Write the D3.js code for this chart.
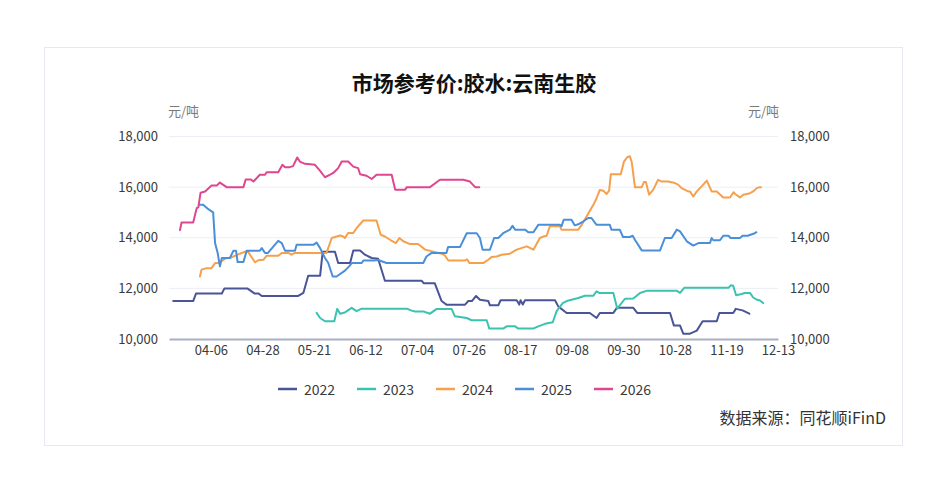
<!DOCTYPE html>
<html><head><meta charset="utf-8">
<script src="https://cdn.jsdelivr.net/npm/d3@7"></script>
<style>body{margin:0;background:#fff;} svg{display:block;font-family:"Noto Sans CJK SC","Noto Sans",sans-serif;}</style>
</head><body><svg id="c" width="949" height="502"></svg>
<script>
const title = "市场参考价:胶水:云南生胶";
const unit = "元/吨";
const source = "数据来源：同花顺iFinD";
const years = ["2022", "2023", "2024", "2025", "2026"];
const colors = ["#4a5599", "#3cc2b0", "#f5a04d", "#4a8fd8", "#e0468e"];
const yTicks = [10000, 12000, 14000, 16000, 18000];
const tickLabels = ["04-06","04-28","05-21","06-12","07-04","07-26","08-17","09-08","09-30","10-28","11-19","12-13"];
const categoryCount = 190, firstTick = 13, tickStep = 16;

// [category index, price]
const s2022 = [[1.3,11500],[7.5,11500],[8.4,11800],[16.4,11800],[17.2,12000],[24.3,12000],[26.5,11800],[27.7,11800],[28.8,11700],[40.1,11700],[41.7,11820],[43.2,12500],[46.9,12500],[47.7,13450],[51.5,13450],[52.5,13000],[56.2,13000],[57.2,13500],[59.3,13500],[60.8,13330],[62.9,13200],[64.9,13170],[67.0,12300],[78.4,12300],[79.1,12200],[82.5,12200],[84.6,11500],[86.2,11350],[91.8,11350],[92.9,11500],[94,11500],[95.3,11700],[96.5,11550],[99.1,11500],[99.6,11330],[102.2,11330],[102.9,11530],[107.9,11530],[108.7,11360],[109.1,11530],[109.8,11360],[110.5,11530],[119.8,11530],[120.8,11290],[123.4,11030],[130.6,11030],[132.7,10830],[133.7,11030],[137.9,11030],[139.0,11230],[144.1,11230],[145.3,11030],[155.5,11030],[156.7,10530],[158.6,10530],[159.6,10210],[161.7,10210],[163.8,10330],[165.6,10700],[170.0,10700],[170.8,11030],[175.1,11030],[175.9,11190],[178.0,11130],[180.1,11000]];
const s2023 = [[45.8,11030],[46.9,10830],[48.4,10700],[51.3,10700],[52.2,11190],[53.1,11000],[54.6,11050],[56.7,11230],[58.2,11100],[59.8,11200],[73.8,11200],[75.3,11120],[76.3,11090],[78.9,11090],[81.0,11000],[83.1,11190],[87.7,11190],[88.7,10900],[92.4,10830],[93.9,10740],[98.6,10740],[99.4,10410],[103.7,10410],[104.8,10500],[107.4,10500],[108.4,10410],[113.0,10410],[114.6,10500],[116.7,10600],[119.1,10660],[120.3,11100],[122.2,11420],[123.4,11500],[127.0,11620],[129.1,11710],[131.7,11710],[132.7,11880],[133.5,11820],[137.9,11820],[139.1,11200],[141.5,11590],[144.1,11600],[146.2,11820],[148.4,11910],[157.5,11910],[158.6,11820],[159.9,12020],[173.6,12020],[174.4,12120],[175.1,12100],[176.0,11730],[177.7,11780],[178.7,11820],[180.3,11820],[181.3,11640],[182.3,11560],[183.4,11520],[184.4,11420]];
const s2024 = [[9.6,12470],[10.1,12740],[11.7,12800],[13.2,12800],[14.3,13000],[15.3,13000],[17.9,13200],[18.9,13200],[22.0,13370],[23.9,13460],[24.5,13450],[26.7,13030],[27.7,13110],[29.3,13130],[30.3,13290],[33.9,13290],[35.0,13400],[37.0,13400],[38.0,13330],[39.1,13400],[48.9,13400],[50.5,13990],[53.1,14090],[54.1,14050],[54.6,13990],[55.6,14190],[57.2,14190],[58.2,14380],[60.3,14680],[64.4,14680],[65.7,14120],[67.0,14050],[68.6,13920],[70.4,13790],[71.5,13990],[72.7,13860],[74.8,13750],[77.3,13750],[79.5,13530],[84.6,13370],[85.6,13300],[86.7,13100],[91.8,13100],[92.5,13150],[93.2,13000],[97.5,13000],[99.1,13130],[100.1,13240],[101.7,13260],[103.2,13330],[105.8,13370],[107.9,13530],[111.0,13660],[112.0,13600],[113.1,13530],[115.1,13990],[116.2,14050],[117.2,14080],[118.2,14450],[121.3,14450],[121.8,14320],[127.0,14320],[128.1,14510],[131.7,15300],[132.7,15560],[133.7,15890],[134.8,15860],[135.8,15730],[136.6,15860],[137.1,16510],[140.2,16510],[141.2,17010],[142.2,17180],[143.0,17220],[143.6,17000],[144.6,16000],[146.7,16000],[147.4,16200],[148.0,16200],[149.0,15700],[150.3,15900],[151.8,16290],[152.9,16220],[154.9,16220],[157.0,16160],[158.0,16100],[159.1,15960],[161.1,15830],[161.7,15830],[162.7,15630],[163.8,15830],[165.3,16030],[166.9,16260],[168.4,15830],[170.0,15830],[172.0,15590],[174.1,15590],[175.2,15800],[175.7,15730],[177.2,15590],[178.2,15700],[179.3,15730],[180.3,15760],[181.3,15830],[182.4,15960],[183.4,16000],[183.7,16000]];
const s2025 = [[9.4,15300],[10.6,15300],[12.2,15130],[13.7,15000],[14.3,13790],[15.1,13400],[15.8,12870],[16.4,13200],[18.9,13200],[20.0,13490],[20.8,13490],[21.3,13040],[23.1,13040],[24.1,13490],[28.2,13490],[28.8,13590],[29.8,13400],[30.7,13400],[33.9,13880],[35.0,13790],[36.0,13490],[39.1,13490],[39.6,13720],[44.8,13720],[45.8,13810],[46.9,13590],[48.4,13200],[49.4,13010],[50.8,12470],[52.0,12470],[54.6,12700],[55.9,12870],[56.7,13000],[59.8,13000],[60.3,13100],[63.4,13100],[64.9,13120],[67.5,13000],[78.9,13000],[79.9,13260],[81.5,13400],[86.1,13400],[86.6,13630],[90.3,13630],[92.4,14180],[95.5,14180],[96.5,13990],[97.3,13530],[99.6,13530],[100.9,13990],[102.2,13990],[103.7,14180],[105.8,14320],[106.6,14470],[107.4,14320],[110.5,14320],[111.5,14220],[113.1,14220],[114.6,14510],[121.3,14510],[121.8,14450],[122.5,14710],[124.9,14710],[125.9,14490],[127.0,14530],[128.5,14640],[130.1,14780],[131.1,14780],[132.7,14510],[136.8,14510],[137.3,14320],[139.9,14320],[140.9,14030],[143.0,14030],[143.9,14080],[144.6,13920],[146.7,13500],[152.4,13500],[153.9,13990],[156.0,13990],[157.6,14320],[158.6,14250],[160.7,13860],[162.7,13690],[164.3,13790],[167.9,13790],[168.4,13990],[168.9,13900],[171.0,13900],[172.0,14080],[173.6,14080],[174.3,13990],[177.2,13990],[178.0,14080],[179.6,14080],[181.8,14180],[182.3,14220]];
const s2026 = [[3.4,14300],[3.9,14600],[7.5,14600],[8.6,15170],[9.1,15200],[9.8,15780],[11.2,15830],[13.2,16060],[14.8,16060],[15.8,16180],[17.9,16000],[23.1,16000],[23.8,16300],[25.4,16300],[26.2,16220],[28.2,16490],[29.8,16490],[30.3,16590],[33.9,16590],[35.2,16880],[36.0,16790],[37.5,16790],[38.5,16830],[39.8,17170],[40.6,17010],[42.2,16920],[45.3,16880],[46.9,16640],[48.4,16390],[50.0,16490],[51.0,16560],[52.5,16750],[53.6,17010],[55.6,17010],[57.2,16810],[58.7,16750],[59.3,16510],[61.3,16450],[62.9,16320],[64.4,16490],[69.1,16490],[70.2,15900],[73.3,15900],[73.8,16000],[81.0,16000],[84.1,16290],[91.3,16290],[93.4,16220],[95.0,16000],[96.3,16000]];
const seriesData = [s2022, s2023, s2024, s2025, s2026];

const svg = d3.select("#c");
svg.append("rect").attr("x", 44.5).attr("y", 47.5).attr("width", 858).attr("height", 398)
  .attr("fill", "#fff").attr("stroke", "#e7e8f0").attr("stroke-width", 1);

const x = d3.scaleLinear().domain([0, categoryCount - 1]).range([169, 778]);
const y = d3.scaleLinear().domain([10000, 18000]).range([339, 136.5]);

svg.append("text").attr("x", 474).attr("y", 82).attr("text-anchor", "middle")
  .attr("dominant-baseline", "central").attr("font-size", 21).attr("font-weight", "bold")
  .attr("fill", "#111").text(title);

svg.append("text").attr("x", 168).attr("y", 110).attr("dominant-baseline", "central")
  .attr("font-size", 13).attr("fill", "#7a7a7a").text(unit);
svg.append("text").attr("x", 779).attr("y", 110).attr("text-anchor", "end").attr("dominant-baseline", "central")
  .attr("font-size", 13).attr("fill", "#7a7a7a").text(unit);

// grid
svg.append("g").selectAll("line").data(yTicks.filter(t => t !== 10000)).join("line")
  .attr("x1", 169).attr("x2", 778).attr("y1", d => y(d)).attr("y2", d => y(d))
  .attr("stroke", "#eceef5").attr("stroke-width", 1);

const fmt = d3.format(",");
const leftAxis = d3.axisLeft(y).tickValues(yTicks).tickFormat(fmt).tickSize(0).tickPadding(11);
const gl = svg.append("g").attr("transform", "translate(169,0)").call(leftAxis);
gl.select(".domain").remove();
gl.selectAll("text").attr("font-size", 13).attr("fill", "#3a3a3a").attr("font-family", "'Noto Sans CJK SC','Noto Sans',sans-serif");
const rightAxis = d3.axisRight(y).tickValues(yTicks).tickFormat(fmt).tickSize(0).tickPadding(12);
const gr = svg.append("g").attr("transform", "translate(778,0)").call(rightAxis);
gr.select(".domain").remove();
gr.selectAll("text").attr("font-size", 13).attr("fill", "#3a3a3a").attr("font-family", "'Noto Sans CJK SC','Noto Sans',sans-serif");

// x axis
const tickIdx = tickLabels.map((_, i) => firstTick + i * tickStep);
const bottomAxis = d3.axisBottom(x).tickValues(tickIdx).tickFormat((d, i) => tickLabels[i]).tickSize(0).tickPadding(7);
const gb = svg.append("g").attr("transform", "translate(0,339)").call(bottomAxis);
gb.select(".domain").attr("stroke", "#a9aec4").attr("stroke-width", 2);
gb.selectAll("text").attr("font-size", 13).attr("fill", "#3a3a3a").attr("font-family", "'Noto Sans CJK SC','Noto Sans',sans-serif");

// lines
const line = d3.line().x(d => x(d[0])).y(d => y(d[1]));
svg.append("g").selectAll("path").data(seriesData).join("path")
  .attr("d", line).attr("fill", "none").attr("stroke", (d, i) => colors[i])
  .attr("stroke-width", 2).attr("stroke-linejoin", "round").attr("stroke-linecap", "round");

// legend
const lg = svg.append("g").selectAll("g").data(years).join("g")
  .attr("transform", (d, i) => `translate(${278 + i * 79},389)`);
lg.append("line").attr("x1", 0).attr("x2", 19).attr("y1", 0).attr("y2", 0)
  .attr("stroke", (d, i) => colors[i]).attr("stroke-width", 2.5);
lg.append("text").attr("x", 26).attr("y", 0).attr("dominant-baseline", "central")
  .attr("font-size", 14).attr("fill", "#3a3a3a").text(d => d);

svg.append("text").attr("x", 886).attr("y", 417).attr("text-anchor", "end").attr("dominant-baseline", "central")
  .attr("font-size", 16).attr("fill", "#333").text(source);
</script></body></html>
